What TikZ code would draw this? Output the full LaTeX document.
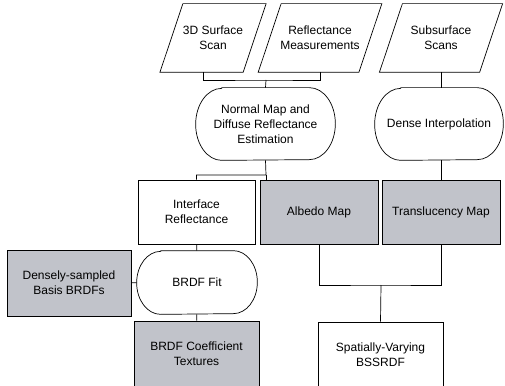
\documentclass[tikz,border=0pt]{standalone}
\usepackage{fontspec}
\setmainfont{Liberation Sans}
\usetikzlibrary{calc}
\definecolor{boxgray}{RGB}{193,195,202}
% slanted input box round a node
\newcommand{\drawdata}[1]{\draw ($(#1.south west)+(-11.5,0)$) -- ($(#1.south east)+(-11.5,0)$)
    -- ($(#1.north east)+(11.5,0)$) -- ($(#1.north west)+(11.5,0)$) -- cycle;}
% terminator box round a node: #2 = x radius, #3 = half height
\newcommand{\drawterm}[3]{\draw ($(#1.north west)+(#2,0)$) -- ($(#1.north east)+(-#2,0)$)
    arc[start angle=90,end angle=-90,x radius=#2pt,y radius=#3pt]
    -- ($(#1.south west)+(#2,0)$)
    arc[start angle=270,end angle=90,x radius=#2pt,y radius=#3pt] -- cycle;}

\begin{document}
\begin{tikzpicture}[x=1pt,y=-1pt,line width=0.7pt,
    every node/.style={font=\fontsize{12}{15}\selectfont,align=center,inner sep=0pt},
    data/.style={minimum height=68,minimum width=#1},
    term/.style={minimum height=#1},
    proc/.style={draw,rectangle,minimum height=64},
    shade/.style={proc,fill=boxgray}]
            \useasboundingbox (0,0) rectangle (505,385);
            \clip (0,0) rectangle (505,385);
            % inputs
            \node[data=82.5] (scan) at (213,38) {3D Surface\\Scan};
            \node[data=100] (refl) at (320,38) {Reflectance\\Measurements};
            \node[data=99.5] (subs) at (441,38) {Subsurface\\Scans};
            \drawdata{scan}
            \drawdata{refl}
            \drawdata{subs}
            % estimation
            \node[term=72,minimum width=139] (norm) at (265.5,124) {Normal Map and\\Diffuse Reflectance\\Estimation};
            \node[term=72,minimum width=128] (dense) at (439,124) {Dense Interpolation};
            \drawterm{norm}{26}{36}
            \drawterm{dense}{26}{36}
            % maps
            \node[proc,minimum width=117] (intf) at (196.5,212) {Interface\\Reflectance};
            \node[shade,minimum width=118] (albedo) at (319,212) {Albedo Map};
            \node[shade,minimum width=118] (transl) at (441,212) {Translucency Map};
            % fitting
            \node[shade,minimum width=124,minimum height=66] (basis) at (69,283) {Densely-sampled\\Basis BRDFs};
            \node[term=63,minimum width=120] (fit) at (197,282.5) {BRDF Fit};
            \drawterm{fit}{24}{31.5}
            \node[shade,minimum width=125,minimum height=66] (coef) at (196.5,354) {BRDF Coefficient\\Textures};
            \node[proc,minimum width=125,minimum height=66] (svbssrdf) at (380.5,355) {Spatially-Varying\\BSSRDF};
            % connectors
            \coordinate (j1) at (266,80);
            \coordinate (j2) at (266,175);
            \coordinate (j3) at (381,285);
            \draw ($(scan.south)+(-10,0)$) |- (j1) -| (refl.south);
            \draw (j1) -- (norm.north);
            \draw (subs.south) -- (subs.south |- dense.north);
            \draw (norm.south) -- (j2) -| (intf.north);
            \draw (j2) -- (j2 |- albedo.north);
            \draw (dense.south -| transl.north) -- (transl.north);
            \draw (intf) -- (fit);
            \draw (basis) -- (fit);
            \draw (fit) -- (coef);
            \draw (albedo.south) |- (j3) -| (transl.south);
            \draw (j3) -- (svbssrdf.north);
        \end{tikzpicture}
\end{document}
